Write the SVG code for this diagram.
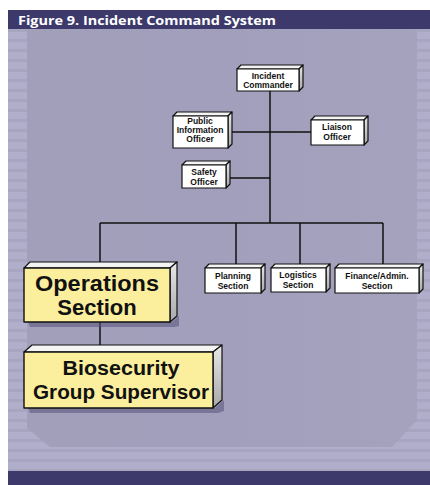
<svg xmlns="http://www.w3.org/2000/svg" width="430" height="485" viewBox="0 0 430 485">
<defs>
<pattern id="stripes" x="0" y="29" width="10" height="10" patternUnits="userSpaceOnUse">
<rect width="10" height="10" fill="#b1aecb"/>
<rect y="0" width="10" height="3" fill="#a8a5c1"/>
</pattern>
<linearGradient id="panelG" x1="0" y1="0" x2="1" y2="0">
<stop offset="0" stop-color="#a29fbb"/>
<stop offset="0.5" stop-color="#a29fbc"/>
<stop offset="1" stop-color="#a5a2be"/>
</linearGradient>
<linearGradient id="sideG" x1="0" y1="0" x2="0" y2="1">
<stop offset="0" stop-color="#e8e8e8"/>
<stop offset="1" stop-color="#a8a8a8"/>
</linearGradient>
</defs>
<style>
.face{fill:#ffffff;stroke:#111;stroke-width:1.2;stroke-linejoin:round}
.yface{fill:#fbee9c;stroke:#111;stroke-width:1.4;stroke-linejoin:round}
.top{fill:#f4f4f4;stroke:#111;stroke-width:1.2;stroke-linejoin:round}
.side{fill:url(#sideG);stroke:#111;stroke-width:1.2;stroke-linejoin:round}
.shadow{fill:#55527a;opacity:0.55}
.sm{font-family:"Liberation Sans",Arial,sans-serif;font-weight:bold;font-size:8.5px;fill:#111;text-anchor:middle}
.big{font-family:"Liberation Sans",Arial,sans-serif;font-weight:bold;font-size:22px;fill:#111;text-anchor:middle}
.bio{font-family:"Liberation Sans",Arial,sans-serif;font-weight:bold;font-size:20px;fill:#111;text-anchor:middle}
.ln{stroke:#111;stroke-width:1.5;fill:none}
</style>
<rect x="0" y="0" width="430" height="485" fill="#ffffff"/>
<rect x="8" y="29" width="422" height="442" fill="url(#stripes)"/>
<polygon points="27,29 417,29 417,420 392,447 50,447 27,428" fill="url(#panelG)"/>
<rect x="8" y="10" width="422" height="19" fill="#3d3a6b"/>
<text x="18" y="25" font-family="'Open Sans','Liberation Sans',sans-serif" font-weight="bold" font-size="13" fill="#ffffff" textLength="258" lengthAdjust="spacingAndGlyphs">Figure 9. Incident Command System</text>
<rect x="8" y="471" width="422" height="14" fill="#3d3a6b"/>
<g id="connectors">
<line class="ln" x1="270" y1="91" x2="270" y2="223"/>
<line class="ln" x1="228" y1="132" x2="311" y2="132"/>
<line class="ln" x1="226" y1="178" x2="270" y2="178"/>
<line class="ln" x1="100" y1="223" x2="383" y2="223"/>
<line class="ln" x1="100" y1="223" x2="100" y2="264"/>
<line class="ln" x1="236" y1="223" x2="236" y2="266"/>
<line class="ln" x1="300" y1="223" x2="300" y2="266"/>
<line class="ln" x1="383" y1="223" x2="383" y2="266"/>
<line class="ln" x1="100" y1="322" x2="100" y2="347"/>
</g>
<g id="incident-commander">
<polygon class="top" points="237,69 241,65 303,65 299,69"/>
<polygon class="side" points="299,69 303,65 303,87 299,91"/>
<rect class="face" x="237" y="69" width="62" height="22"/>
<text class="sm" x="268" y="79">Incident</text>
<text class="sm" x="268" y="88">Commander</text>
</g>
<g id="public-information-officer">
<polygon class="top" points="173,116 177,112 232,112 228,116"/>
<polygon class="side" points="228,116 232,112 232,144 228,148"/>
<rect class="face" x="173" y="116" width="55" height="32"/>
<text class="sm" x="200" y="124">Public</text>
<text class="sm" x="200" y="133">Information</text>
<text class="sm" x="200" y="142">Officer</text>
</g>
<g id="liaison-officer">
<polygon class="top" points="311,120 315,116 368,116 364,120"/>
<polygon class="side" points="364,120 368,116 368,141 364,145"/>
<rect class="face" x="311" y="120" width="53" height="25"/>
<text class="sm" x="337" y="130">Liaison</text>
<text class="sm" x="337" y="140">Officer</text>
</g>
<g id="safety-officer">
<polygon class="top" points="182,165 186,161 230,161 226,165"/>
<polygon class="side" points="226,165 230,161 230,184 226,188"/>
<rect class="face" x="182" y="165" width="44" height="23"/>
<text class="sm" x="204" y="175">Safety</text>
<text class="sm" x="204" y="185">Officer</text>
</g>
<g id="planning-section">
<polygon class="top" points="205,268 209,264 265,264 261,268"/>
<polygon class="side" points="261,268 265,264 265,289 261,293"/>
<rect class="face" x="205" y="268" width="56" height="25"/>
<text class="sm" x="233" y="279">Planning</text>
<text class="sm" x="233" y="289">Section</text>
</g>
<g id="logistics-section">
<polygon class="top" points="271,268 275,264 330,264 326,268"/>
<polygon class="side" points="326,268 330,264 330,288 326,292"/>
<rect class="face" x="271" y="268" width="55" height="24"/>
<text class="sm" x="298" y="278">Logistics</text>
<text class="sm" x="298" y="288">Section</text>
</g>
<g id="finance-admin-section">
<polygon class="top" points="335,268 339,264 423,264 419,268"/>
<polygon class="side" points="419,268 423,264 423,289 419,293"/>
<rect class="face" x="335" y="268" width="84" height="25"/>
<text class="sm" x="377" y="279">Finance/Admin.</text>
<text class="sm" x="377" y="289">Section</text>
</g>
<g id="operations-section">
<polygon class="shadow" points="28,322 172,322 179,316 179,326 174,327 30,327"/>
<polygon class="top" points="24,268 30,262 177,262 170,268"/>
<polygon class="side" points="170,268 177,262 177,316 170,322"/>
<rect class="yface" x="24" y="268" width="146" height="54"/>
<text class="big" x="97" y="291" textLength="124" lengthAdjust="spacingAndGlyphs">Operations</text>
<text class="big" x="97" y="315">Section</text>
</g>
<g id="biosecurity-group-supervisor">
<polygon class="shadow" points="28,408 215,408 224,400 224,411 218,413 30,413"/>
<polygon class="top" points="24,352 32,345 222,345 213,352"/>
<polygon class="side" points="213,352 222,345 222,400 213,408"/>
<rect class="yface" x="24" y="352" width="189" height="56"/>
<text class="bio" x="121" y="375" textLength="117" lengthAdjust="spacingAndGlyphs">Biosecurity</text>
<text class="bio" x="121" y="399" textLength="176" lengthAdjust="spacingAndGlyphs">Group Supervisor</text>
</g>
</svg>
